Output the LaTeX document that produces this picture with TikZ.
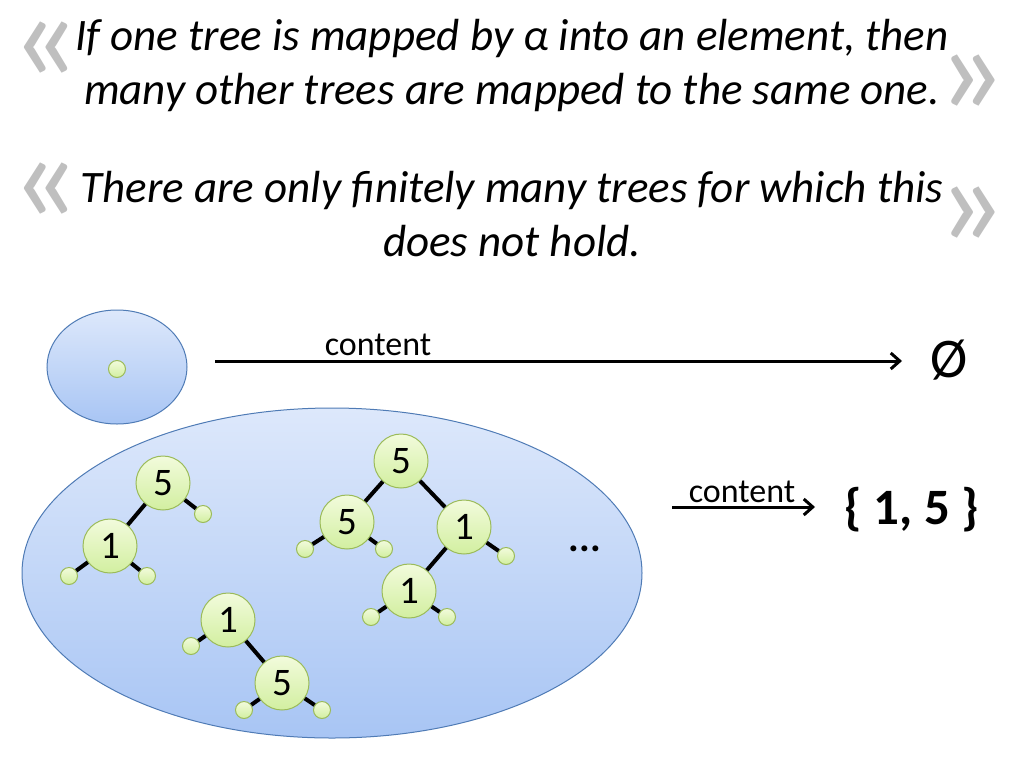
\documentclass[tikz,border=0pt]{standalone}
\usepackage{fontspec}
\setmainfont{Carlito}
\usetikzlibrary{shapes.geometric,arrows.meta}

\definecolor{bleuhaut}{HTML}{DDE8FB}
\definecolor{bleubas}{HTML}{A8C5F4}
\definecolor{bleubord}{HTML}{4F7BB5}
\definecolor{verthaut}{HTML}{F2FBDC}
\definecolor{vertbas}{HTML}{D2EFA0}
\definecolor{vertbord}{HTML}{9BBB59}
\definecolor{guillemet}{HTML}{BFBFBF}

\begin{document}
\begin{tikzpicture}[x=1pt, y=-1pt, fleche/.style={-{Straight Barb[length=9pt,width=16pt]}, line width=3pt}]
        \tikzset{noeud/.style={circle, minimum size=54pt, inner sep=0pt, draw=vertbord, line width=1pt, top color=verthaut, bottom color=vertbas, font=\fontsize{39}{39}\selectfont},
                 feuille/.style={circle, minimum size=17pt, inner sep=0pt, draw=vertbord, line width=1pt, top color=verthaut, bottom color=vertbas},
                 ens/.style={ellipse, draw=bleubord, line width=1pt, top color=bleuhaut, bottom color=bleubas},
                 arete/.style={line width=4pt},
                 guil/.style={text=guillemet, inner sep=0pt, font=\fontsize{136}{136}\selectfont}};
        \useasboundingbox (0, 0) rectangle (1024, 768);

        % les deux phrases
        \node[align=center, font=\itshape\fontsize{45}{54}\selectfont] (q1) at (512, 66)
            {If one tree is mapped by α into an element, then\\many other trees are mapped to the same one.};
        \node[align=center, font=\itshape\fontsize{45}{54}\selectfont] (q2) at (512, 214)
            {There are only finitely many trees for which this\\does not hold.};
        \node[guil] (g1) at (45, 52) {«};
        \node[guil] (g2) at (971, 85) {»};
        \node[guil] (g3) at (45, 193) {«};
        \node[guil] (g4) at (971, 217) {»};

        % les ensembles
        \node[ens, minimum width=140pt, minimum height=114pt] (e1) at (117, 367) {};
        \node[ens, minimum width=620pt, minimum height=330pt] (e2) at (332, 573) {};
        \node[feuille] (vide) at (117, 369) {};

        % premier arbre
        \node[noeud] (a5) at (163, 483) {5};
        \node[noeud] (a1) at (110, 546) {1};
        \node[feuille] (a5d) at (203, 514) {};
        \node[feuille] (a1g) at (69, 576) {};
        \node[feuille] (a1d) at (147, 576) {};
        \draw[arete] (a5) -- (a1);
        \draw[arete] (a5) -- (a5d);
        \draw[arete] (a1) -- (a1g);
        \draw[arete] (a1) -- (a1d);

        % deuxieme arbre
        \node[noeud] (b5) at (401, 461) {5};
        \node[noeud] (b5g) at (347, 522) {5};
        \node[noeud] (b1d) at (464, 527) {1};
        \node[noeud] (b1) at (409, 591) {1};
        \node[feuille] (b5gg) at (305, 549) {};
        \node[feuille] (b5gd) at (384, 549) {};
        \node[feuille] (b1dd) at (506, 556) {};
        \node[feuille] (b1g) at (371, 617) {};
        \node[feuille] (b1dr) at (447, 617) {};
        \draw[arete] (b5) -- (b5g);
        \draw[arete] (b5) -- (b1d);
        \draw[arete] (b1d) -- (b1);
        \draw[arete] (b5g) -- (b5gg);
        \draw[arete] (b5g) -- (b5gd);
        \draw[arete] (b1d) -- (b1dd);
        \draw[arete] (b1) -- (b1g);
        \draw[arete] (b1) -- (b1dr);

        % troisieme arbre
        \node[noeud] (c1) at (228, 620) {1};
        \node[noeud] (c5) at (282, 683) {5};
        \node[feuille] (c1g) at (191, 646) {};
        \node[feuille] (c5g) at (244, 710) {};
        \node[feuille] (c5d) at (322, 710) {};
        \draw[arete] (c1) -- (c5);
        \draw[arete] (c1) -- (c1g);
        \draw[arete] (c5) -- (c5g);
        \draw[arete] (c5) -- (c5d);

        \node[font=\bfseries\fontsize{40}{40}\selectfont] (pts) at (585, 549) {...};

        % les fleches
        \coordinate (d1) at (215, 361);
        \coordinate (f1) at (902, 361);
        \draw[fleche] (d1) -- (f1);
        \node[font=\fontsize{34}{34}\selectfont] (c1lab) at (378, 345) {content};
        \node[font=\fontsize{56}{56}\selectfont] (res1) at (949, 360) {Ø};

        \coordinate (d2) at (672, 507);
        \coordinate (f2) at (815, 507);
        \draw[fleche] (d2) -- (f2);
        \node[font=\fontsize{34}{34}\selectfont] (c2lab) at (742, 492) {content};
        \node[font=\bfseries\fontsize{51}{51}\selectfont] (res2) at (912, 510) {\{ 1, 5 \}};
    \end{tikzpicture}
\end{document}
